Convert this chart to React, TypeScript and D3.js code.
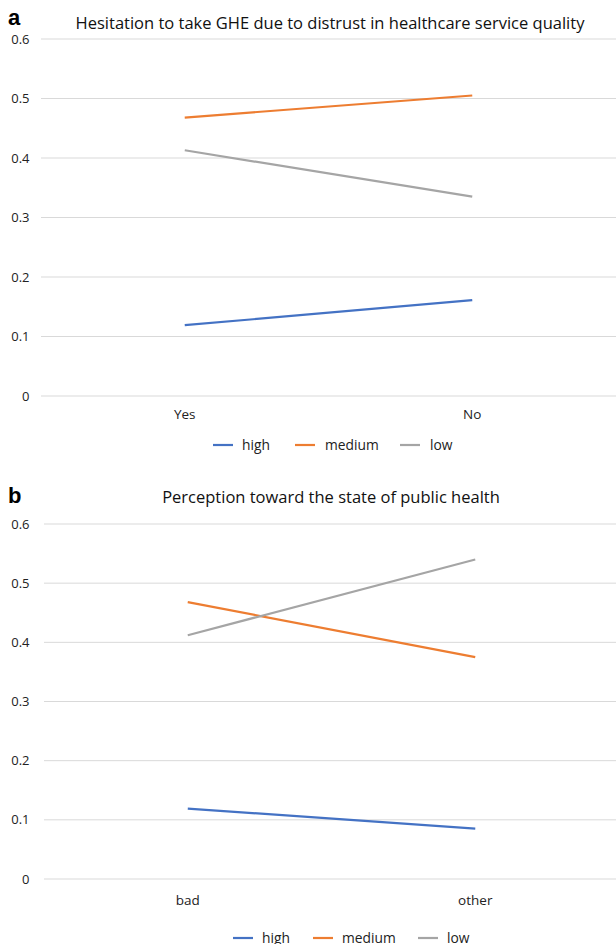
import * as d3 from "d3";

// panel a
const catsA = ["Yes", "No"];
const highA = [0.119, 0.161];
const mediumA = [0.468, 0.505];
const lowA = [0.413, 0.335];

// panel b
const catsB = ["bad", "other"];
const highB = [0.119, 0.085];
const mediumB = [0.468, 0.375];
const lowB = [0.412, 0.54];

const yTicks = [0, 0.1, 0.2, 0.3, 0.4, 0.5, 0.6];
const seriesNames = ["high", "medium", "low"];
const colors = ["#4472C4", "#ED7D31", "#A5A5A5"];

const font = "'Open Sans', 'Noto Sans', sans-serif";

type PanelProps = {
  letter: string;
  letterY: number;
  title: string;
  titleX: number;
  titleY: number;
  cats: string[];
  series: number[][];
  top: number; // y of 0.6
  bottom: number; // y of 0
  xRange: [number, number];
  catDy: number;
  legendDy: number;
  legend: { line: number; text: number }[];
};

const Panel = (p: PanelProps) => {
  const { cats, series, top, bottom, xRange, legend } = p;
  const x = d3.scalePoint<string>().domain(cats).range(xRange).padding(0.5);
  const y = d3.scaleLinear().domain([0, 0.6]).range([bottom, top]);
  const line = d3
    .line<number>()
    .x((_, i) => x(cats[i]) as number)
    .y((d) => y(d));

  return (
    <g>
      <text x={8} y={p.letterY} fontSize={22} fontWeight="bold" fontFamily="Arial, 'Liberation Sans', sans-serif">
        {p.letter}
      </text>
      <text x={p.titleX} y={p.titleY} fontSize={16.5} textAnchor="middle" fontFamily={font} fill="#111">
        {p.title}
      </text>
      {yTicks.map((t) => (
        <g key={t}>
          <line x1={xRange[0]} x2={616} y1={y(t)} y2={y(t)} stroke="#d9d9d9" strokeWidth={1} />
          <text x={29.5} y={y(t) + 4.5} fontSize={13} textAnchor="end" fontFamily={font} fill="#222">
            {t === 0 ? "0" : t.toFixed(1)}
          </text>
        </g>
      ))}
      {cats.map((c) => (
        <text key={c} x={x(c)} y={bottom + p.catDy} fontSize={13.5} textAnchor="middle" fontFamily={font} fill="#222">
          {c}
        </text>
      ))}
      {series.map((s, i) => (
        <path key={i} d={line(s) || ""} fill="none" stroke={colors[i]} strokeWidth={2.2} />
      ))}
      {seriesNames.map((n, i) => (
        <g key={n}>
          <line
            x1={legend[i].line}
            x2={legend[i].line + 20}
            y1={bottom + p.legendDy}
            y2={bottom + p.legendDy}
            stroke={colors[i]}
            strokeWidth={2.2}
          />
          <text x={legend[i].text} y={bottom + p.legendDy + 5} fontSize={13.8} fontFamily={font} fill="#222">
            {n}
          </text>
        </g>
      ))}
    </g>
  );
};

export default function App() {
  return (
    <svg width={616} height={944} style={{ position: "absolute", left: 0, top: 0, background: "#fff" }}>
      <Panel
        letter="a"
        letterY={25}
        title="Hesitation to take GHE due to distrust in healthcare service quality"
        titleX={330}
        titleY={29}
        cats={catsA}
        series={[highA, mediumA, lowA]}
        top={39}
        bottom={396}
        xRange={[41, 616]}
        catDy={23}
        legendDy={49}
        legend={[
          { line: 213, text: 242 },
          { line: 295, text: 325 },
          { line: 400, text: 430 },
        ]}
      />
      <Panel
        letter="b"
        letterY={503}
        title="Perception toward the state of public health"
        titleX={331}
        titleY={503}
        cats={catsB}
        series={[highB, mediumB, lowB]}
        top={524}
        bottom={879}
        xRange={[44, 619]}
        catDy={26}
        legendDy={59}
        legend={[
          { line: 233, text: 262 },
          { line: 313, text: 342 },
          { line: 418, text: 447 },
        ]}
      />
    </svg>
  );
}
